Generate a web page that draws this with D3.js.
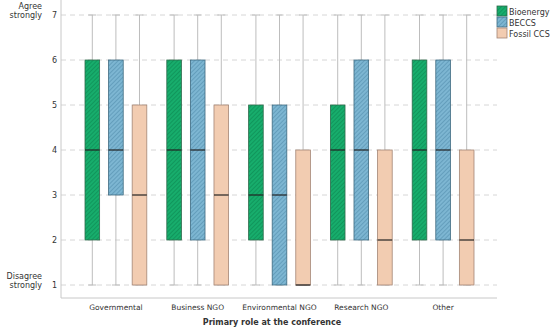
<!DOCTYPE html>
<html>
<head>
<meta charset="utf-8">
<script src="https://cdn.jsdelivr.net/npm/d3@7"></script>
<style>
  body { margin: 0; background: #fff; }
  text { font-family: "DejaVu Sans", sans-serif; fill: #333; }
</style>
</head>
<body>
<div id="chart"></div>
<script>
// roles on the x axis
const roles = ["Governmental", "Business NGO", "Environmental NGO", "Research NGO", "Other"];
const techs = ["Bioenergy", "BECCS", "Fossil CCS"];

// [min, q1, median, q3, max] per role, one array per technology
const bioenergy = [[1,2,4,6,7], [1,2,4,6,7], [1,2,3,5,7], [1,2,4,5,7], [1,2,4,6,7]];
const beccs     = [[1,3,4,6,7], [1,2,4,6,7], [1,1,3,5,7], [1,2,4,6,7], [1,2,4,6,7]];
const fossilCcs = [[1,1,3,5,7], [1,1,3,5,7], [1,1,1,4,7], [1,1,2,4,7], [1,1,2,4,7]];

const yTicks = [1, 2, 3, 4, 5, 6, 7];

const seriesValues = [bioenergy, beccs, fossilCcs];
const boxes = [];
roles.forEach((r, i) => {
    techs.forEach((t, j) => {
        const v = seriesValues[j][i];
        boxes.push({role: r, tech: t, min: v[0], q1: v[1], med: v[2], q3: v[3], max: v[4]});
    });
});

const W = 550, H = 331;
const svg = d3.select("#chart").append("svg")
    .attr("width", W).attr("height", H);

// hatch patterns
const defs = svg.append("defs");
function hatch(id, bg, line) {
    const p = defs.append("pattern")
        .attr("id", id)
        .attr("patternUnits", "userSpaceOnUse")
        .attr("width", 3).attr("height", 3)
        .attr("patternTransform", "rotate(45)");
    p.append("rect").attr("width", 3).attr("height", 3).attr("fill", bg);
    p.append("line").attr("x1", 0).attr("y1", 0).attr("x2", 0).attr("y2", 3)
        .attr("stroke", line).attr("stroke-width", 1);
}
hatch("hatchGreen", "#17ad6c", "#0a7f4b");
hatch("hatchBlue", "#7db6d2", "#4b86a6");

const fill = d3.scaleOrdinal()
    .domain(techs)
    .range(["url(#hatchGreen)", "url(#hatchBlue)", "#f2ccb1"]);
const legendFill = d3.scaleOrdinal()
    .domain(techs)
    .range(["url(#hatchGreen)", "url(#hatchBlue)", "#f2ccb1"]);
const stroke = d3.scaleOrdinal()
    .domain(techs)
    .range(["#2f6a4c", "#3e6a80", "#a48676"]);

const plot = {left: 61, right: 497, top: 14, bottom: 298};

const x = d3.scaleBand().domain(roles).range([75, 484]);
const xInner = d3.scaleBand().domain(techs).range([10, x.bandwidth() - 10]).paddingInner(0.38);
const y = d3.scaleLinear().domain([1, 7]).range([285, 15]);

// grid
svg.append("g").selectAll("line")
    .data(yTicks)
    .join("line")
    .attr("x1", plot.left).attr("x2", plot.right)
    .attr("y1", d => y(d)).attr("y2", d => y(d))
    .attr("stroke", "#d6d6d6")
    .attr("stroke-dasharray", "5,4");

// axes lines
svg.append("line")
    .attr("x1", plot.left).attr("x2", plot.left)
    .attr("y1", 0).attr("y2", plot.bottom)
    .attr("stroke", "#c8c8c8");
svg.append("line")
    .attr("x1", plot.left).attr("x2", plot.right)
    .attr("y1", plot.bottom).attr("y2", plot.bottom)
    .attr("stroke", "#c8c8c8");

// y tick labels
svg.append("g").selectAll("text")
    .data(yTicks)
    .join("text")
    .attr("x", 57).attr("y", d => y(d) + 3)
    .attr("text-anchor", "end")
    .style("font-size", "8px")
    .text(d => d);

const endLabels = [["Agree", "strongly", 7], ["Disagree", "strongly", 1]];
endLabels.forEach(l => {
    const t = svg.append("text")
        .attr("text-anchor", "end")
        .style("font-size", "8px")
        .attr("y", y(l[2]) - 6);
    t.append("tspan").attr("x", 42).text(l[0]);
    t.append("tspan").attr("x", 42).attr("dy", 9).text(l[1]);
});

// x labels
svg.append("g").selectAll("text")
    .data(roles)
    .join("text")
    .attr("x", d => x(d) + x.bandwidth() / 2)
    .attr("y", 310)
    .attr("text-anchor", "middle")
    .style("font-size", "7.5px")
    .text(d => d);

svg.append("text")
    .attr("x", 272).attr("y", 325)
    .attr("text-anchor", "middle")
    .style("font-size", "8px")
    .style("font-weight", "bold")
    .text("Primary role at the conference");

// boxes
const g = svg.append("g");
const bw = xInner.bandwidth();
const cx = d => x(d.role) + xInner(d.tech) + bw / 2;

g.selectAll(".whisker")
    .data(boxes)
    .join("line")
    .attr("class", "whisker")
    .attr("x1", cx).attr("x2", cx)
    .attr("y1", d => y(d.min)).attr("y2", d => y(d.max))
    .attr("stroke", "#bdbdbd");

g.selectAll(".capTop")
    .data(boxes)
    .join("line")
    .attr("class", "capTop")
    .attr("x1", d => cx(d) - 4).attr("x2", d => cx(d) + 4)
    .attr("y1", d => y(d.max)).attr("y2", d => y(d.max))
    .attr("stroke", "#bdbdbd");

g.selectAll(".capBot")
    .data(boxes)
    .join("line")
    .attr("class", "capBot")
    .attr("x1", d => cx(d) - 4).attr("x2", d => cx(d) + 4)
    .attr("y1", d => y(d.min)).attr("y2", d => y(d.min))
    .attr("stroke", "#bdbdbd");

g.selectAll(".box")
    .data(boxes)
    .join("rect")
    .attr("class", "box")
    .attr("x", d => x(d.role) + xInner(d.tech))
    .attr("width", bw)
    .attr("y", d => y(d.q3))
    .attr("height", d => y(d.q1) - y(d.q3))
    .attr("fill", d => fill(d.tech))
    .attr("stroke", d => stroke(d.tech))
    .attr("stroke-width", 0.8);

g.selectAll(".median")
    .data(boxes)
    .join("line")
    .attr("class", "median")
    .attr("x1", d => x(d.role) + xInner(d.tech))
    .attr("x2", d => x(d.role) + xInner(d.tech) + bw)
    .attr("y1", d => y(d.med)).attr("y2", d => y(d.med))
    .attr("stroke", "#222")
    .attr("stroke-width", 1.2);

// legend
const legend = svg.append("g").attr("transform", "translate(497,6)");
techs.forEach((t, i) => {
    legend.append("rect")
        .attr("x", 0).attr("y", i * 11)
        .attr("width", 10).attr("height", 10)
        .attr("fill", legendFill(t))
        .attr("stroke", stroke(t))
        .attr("stroke-width", 0.8);
    legend.append("text")
        .attr("x", 12).attr("y", i * 11 + 8.5)
        .style("font-size", "8px")
        .text(t);
});
</script>
</body>
</html>
